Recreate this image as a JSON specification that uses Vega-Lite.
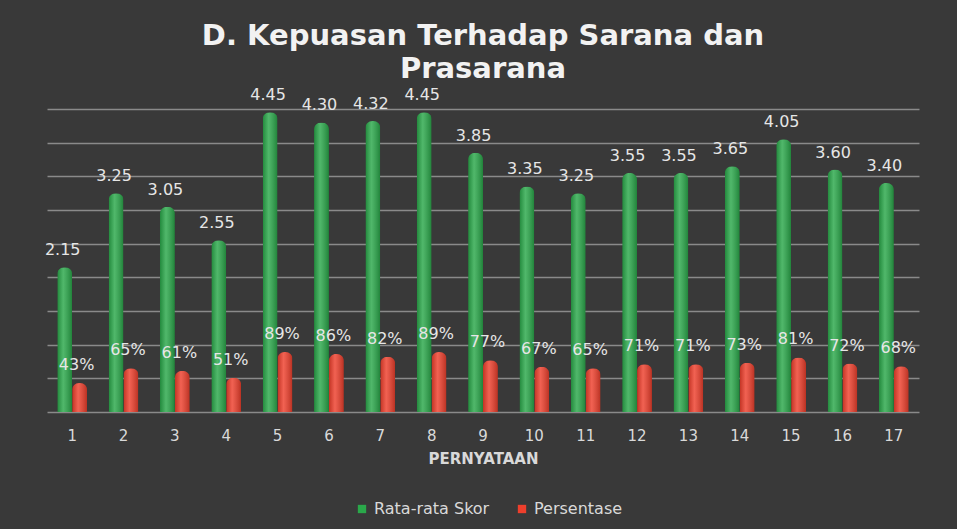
{
  "$schema": "https://vega.github.io/schema/vega-lite/v6.json",
  "width": 872,
  "height": 303,
  "autosize": {"type": "none"},
  "padding": {"left": 47, "top": 109, "right": 38, "bottom": 117},
  "background": "#393939",
  "title": {
    "text": ["D. Kepuasan Terhadap Sarana dan", "Prasarana"],
    "font": "DejaVu Sans",
    "fontWeight": "bold",
    "fontSize": 29,
    "color": "#f2f2f2",
    "anchor": "middle",
    "lineHeight": 33,
    "offset": 3
  },
  "data": {
    "values": [
      {"p": "1", "seri": "Rata-rata Skor", "nilai": 2.15},
      {"p": "2", "seri": "Rata-rata Skor", "nilai": 3.25},
      {"p": "3", "seri": "Rata-rata Skor", "nilai": 3.05},
      {"p": "4", "seri": "Rata-rata Skor", "nilai": 2.55},
      {"p": "5", "seri": "Rata-rata Skor", "nilai": 4.45},
      {"p": "6", "seri": "Rata-rata Skor", "nilai": 4.30},
      {"p": "7", "seri": "Rata-rata Skor", "nilai": 4.32},
      {"p": "8", "seri": "Rata-rata Skor", "nilai": 4.45},
      {"p": "9", "seri": "Rata-rata Skor", "nilai": 3.85},
      {"p": "10", "seri": "Rata-rata Skor", "nilai": 3.35},
      {"p": "11", "seri": "Rata-rata Skor", "nilai": 3.25},
      {"p": "12", "seri": "Rata-rata Skor", "nilai": 3.55},
      {"p": "13", "seri": "Rata-rata Skor", "nilai": 3.55},
      {"p": "14", "seri": "Rata-rata Skor", "nilai": 3.65},
      {"p": "15", "seri": "Rata-rata Skor", "nilai": 4.05},
      {"p": "16", "seri": "Rata-rata Skor", "nilai": 3.60},
      {"p": "17", "seri": "Rata-rata Skor", "nilai": 3.40},
      {"p": "1", "seri": "Persentase", "nilai": 0.43},
      {"p": "2", "seri": "Persentase", "nilai": 0.65},
      {"p": "3", "seri": "Persentase", "nilai": 0.61},
      {"p": "4", "seri": "Persentase", "nilai": 0.51},
      {"p": "5", "seri": "Persentase", "nilai": 0.89},
      {"p": "6", "seri": "Persentase", "nilai": 0.86},
      {"p": "7", "seri": "Persentase", "nilai": 0.82},
      {"p": "8", "seri": "Persentase", "nilai": 0.89},
      {"p": "9", "seri": "Persentase", "nilai": 0.77},
      {"p": "10", "seri": "Persentase", "nilai": 0.67},
      {"p": "11", "seri": "Persentase", "nilai": 0.65},
      {"p": "12", "seri": "Persentase", "nilai": 0.71},
      {"p": "13", "seri": "Persentase", "nilai": 0.71},
      {"p": "14", "seri": "Persentase", "nilai": 0.73},
      {"p": "15", "seri": "Persentase", "nilai": 0.81},
      {"p": "16", "seri": "Persentase", "nilai": 0.72},
      {"p": "17", "seri": "Persentase", "nilai": 0.68}
    ]
  },
  "encoding": {
    "x": {
      "field": "p",
      "type": "ordinal",
      "sort": null,
      "scale": {"paddingInner": 0.42, "paddingOuter": 0.2},
      "axis": {
        "title": "PERNYATAAN",
        "labelAngle": 0,
        "labelFont": "DejaVu Sans",
        "labelFontSize": 15,
        "labelColor": "#d9d9d9",
        "labelPadding": 16,
        "ticks": false,
        "domain": false,
        "titleFont": "DejaVu Sans",
        "titleFontSize": 15,
        "titleFontWeight": "bold",
        "titleColor": "#d9d9d9",
        "titlePadding": 8
      }
    },
    "xOffset": {"field": "seri", "type": "nominal", "sort": ["Rata-rata Skor", "Persentase"], "scale": {"paddingInner": 0}},
    "y": {
      "field": "nilai",
      "type": "quantitative",
      "scale": {"domain": [0, 4.5], "nice": false},
      "axis": {
        "title": null,
        "labels": false,
        "ticks": false,
        "domain": false,
        "values": [0, 0.5, 1, 1.5, 2, 2.5, 3, 3.5, 4, 4.5],
        "grid": true,
        "gridColor": "#8a8a8a",
        "gridWidth": 1.5
      }
    }
  },
  "layer": [
    {
      "mark": {"type": "bar", "clip": false, "cornerRadiusTopLeft": 7, "cornerRadiusTopRight": 7},
      "encoding": {
        "color": {
          "field": "seri",
          "type": "nominal",
          "sort": ["Rata-rata Skor", "Persentase"],
          "scale": {"domain": ["Rata-rata Skor", "Persentase"], "range": ["#2aa84a", "#ee3f2c"]},
          "legend": {
            "title": null,
            "orient": "none",
            "legendX": 307,
            "legendY": 392,
            "direction": "horizontal",
            "symbolType": "square",
            "symbolSize": 70,
            "symbolStrokeWidth": 0,
            "labelFont": "DejaVu Sans",
            "labelFontSize": 16,
            "labelColor": "#d9d9d9",
            "columnPadding": 24,
            "labelOffset": 4
          }
        }
      }
    },
    {
      "mark": {
        "type": "bar",
        "clip": false,
        "cornerRadiusTopLeft": 7,
        "cornerRadiusTopRight": 7,
        "fill": {
          "gradient": "linear",
          "x1": 0, "x2": 1, "y1": 0, "y2": 0,
          "stops": [
            {"offset": 0, "color": "rgba(0,0,0,0.18)"},
            {"offset": 0.4, "color": "rgba(255,255,255,0.18)"},
            {"offset": 1, "color": "rgba(0,0,0,0.22)"}
          ]
        }
      },
      "encoding": {}
    },
    {
      "transform": [{"filter": "datum.seri === 'Rata-rata Skor'"}],
      "mark": {"type": "text", "baseline": "bottom", "dy": -9, "dx": -2, "font": "DejaVu Sans", "fontSize": 16, "color": "#e6e6e6", "clip": false},
      "encoding": {"text": {"field": "nilai", "type": "quantitative", "format": ".2f"}}
    },
    {
      "transform": [{"filter": "datum.seri === 'Persentase'"}],
      "mark": {"type": "text", "baseline": "bottom", "dy": -10, "dx": -3, "font": "DejaVu Sans", "fontSize": 16, "color": "#e6e6e6", "clip": false},
      "encoding": {"text": {"field": "nilai", "type": "quantitative", "format": ".0%"}}
    }
  ],
  "config": {
    "view": {"stroke": null}
  }
}
